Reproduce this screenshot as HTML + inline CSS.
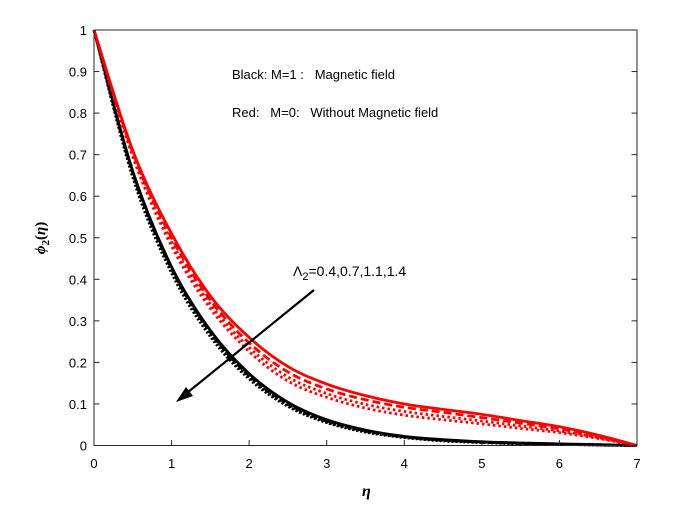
<!DOCTYPE html>
<html><head><meta charset="utf-8">
<style>body{margin:0;background:#fff}svg{display:block;font-family:"Liberation Sans",Arial,sans-serif}</style>
</head><body>
<svg id="chart" width="673" height="512" viewBox="0 0 673 512">
<rect width="673" height="512" fill="#fff"/>
<g id="series"></g>
<rect x="94" y="30" width="543" height="415.5" fill="none" stroke="#262626" stroke-width="1"/>
<g id="axes"></g>
<text x="232" y="79" font-size="13" xml:space="preserve">Black: M=1 :   Magnetic field</text>
<text x="232" y="117" font-size="13" xml:space="preserve">Red:   M=0:   Without Magnetic field</text>
<line x1="314" y1="290" x2="182" y2="397" stroke="#000" stroke-width="2.2"/>
<polygon points="176,402 186,387 193,396" fill="#000"/>
<text x="293" y="276" font-size="14">Λ<tspan font-size="11" dy="4">2</tspan><tspan dy="-4">=0.4,0.7,1.1,1.4</tspan></text>
<text x="362" y="496" font-size="16" font-weight="bold" font-style="italic" font-family="Liberation Serif,serif">η</text>
<text transform="translate(45,238) rotate(-90)" text-anchor="middle" font-size="15" font-weight="bold" font-family="Liberation Serif,serif"><tspan font-style="italic">ϕ</tspan><tspan font-size="11" dy="4">2</tspan><tspan dy="-4">(</tspan><tspan font-style="italic">η</tspan>)</text>
</svg>
<script>
const etas=[0,0.5,1,1.5,2,2.5,3,3.5,4,4.5,5,5.5,6,6.5,7];
const red1=[1,0.71,0.51,0.36,0.26,0.19,0.148,0.12,0.1,0.087,0.075,0.06,0.045,0.025,0];
const red2=[1,0.705,0.5,0.35,0.247,0.177,0.136,0.11,0.092,0.08,0.067,0.054,0.04,0.022,0];
const red3=[1,0.7,0.49,0.34,0.236,0.165,0.125,0.099,0.082,0.07,0.059,0.047,0.035,0.019,0];
const red4=[1,0.695,0.48,0.33,0.226,0.155,0.116,0.09,0.073,0.062,0.052,0.041,0.031,0.017,0];
const blk1=[1,0.66,0.43,0.277,0.173,0.104,0.062,0.037,0.022,0.014,0.009,0.006,0.004,0.002,0];
const blk2=[1,0.655,0.425,0.272,0.168,0.1,0.059,0.035,0.021,0.013,0.008,0.005,0.003,0.002,0];
const blk3=[1,0.65,0.42,0.267,0.164,0.097,0.057,0.034,0.02,0.012,0.008,0.005,0.003,0.001,0];
const blk4=[1,0.645,0.415,0.262,0.16,0.094,0.055,0.032,0.019,0.011,0.007,0.004,0.003,0.001,0];
const xTicks=[0,1,2,3,4,5,6,7];
const yTicks=[0,0.1,0.2,0.3,0.4,0.5,0.6,0.7,0.8,0.9,1];
const NS="http://www.w3.org/2000/svg";
const X=v=>94+v*(543/7), Y=v=>445.5-v*415.5;
function pathFor(ys){
  const p=etas.map((e,i)=>[X(e),Y(ys[i])]);
  let d="M"+p[0][0]+","+p[0][1];
  for(let i=0;i<p.length-1;i++){
    const p0=p[Math.max(0,i-1)],p1=p[i],p2=p[i+1],p3=p[Math.min(p.length-1,i+2)];
    d+=" C"+(p1[0]+(p2[0]-p0[0])/6)+","+(p1[1]+(p2[1]-p0[1])/6)+" "+(p2[0]-(p3[0]-p1[0])/6)+","+(p2[1]-(p3[1]-p1[1])/6)+" "+p2[0]+","+p2[1];
  }
  return d;
}
const sg=document.getElementById("series");
const defs=[[blk4,"#000","2 2","black-lambda-1.4"],[blk3,"#000","2 2","black-lambda-1.1"],[blk2,"#000","6 3","black-lambda-0.7"],[blk1,"#000","","black-lambda-0.4"],
[red4,"#f00","2.5 3","red-lambda-1.4"],[red3,"#f00","2.5 3","red-lambda-1.1"],[red2,"#f00","8 4","red-lambda-0.7"],[red1,"#f00","","red-lambda-0.4"]];
defs.forEach(s=>{
  const el=document.createElementNS(NS,"path");
  el.setAttribute("d",pathFor(s[0]));
  el.setAttribute("fill","none");el.setAttribute("stroke",s[1]);el.setAttribute("stroke-width","2.8");
  if(s[2])el.setAttribute("stroke-dasharray",s[2]);
  
  
  sg.appendChild(el);
});
const ax=document.getElementById("axes");
xTicks.forEach(t=>{
  const l=document.createElementNS(NS,"line");
  l.setAttribute("x1",X(t));l.setAttribute("x2",X(t));l.setAttribute("y1",445.5);l.setAttribute("y2",440);l.setAttribute("stroke","#262626");
  
  
  ax.appendChild(l);
  const tx=document.createElementNS(NS,"text");
  tx.setAttribute("x",X(t));tx.setAttribute("y",468);tx.setAttribute("text-anchor","middle");tx.setAttribute("font-size","13");
  tx.textContent=t;
  
  
  ax.appendChild(tx);
});
yTicks.forEach(t=>{
  [[94,99.5],[637,631.5]].forEach(a=>{
    const l=document.createElementNS(NS,"line");
    l.setAttribute("x1",a[0]);l.setAttribute("x2",a[1]);l.setAttribute("y1",Y(t));l.setAttribute("y2",Y(t));l.setAttribute("stroke","#262626");
    
    
    ax.appendChild(l);
  });
  const tx=document.createElementNS(NS,"text");
  tx.setAttribute("x",87);tx.setAttribute("y",Y(t)+5);tx.setAttribute("text-anchor","end");tx.setAttribute("font-size","13");
  tx.textContent=String(t);
  
  
  ax.appendChild(tx);
});
</script>
</body></html>
